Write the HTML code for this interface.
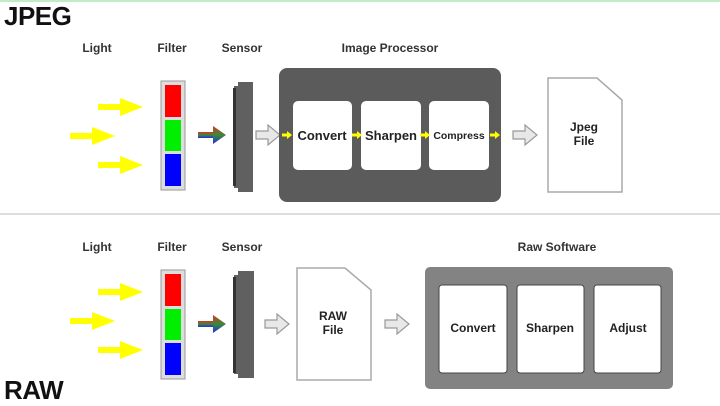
<!DOCTYPE html>
<html><head><meta charset="utf-8"><style>
html,body{margin:0;padding:0;background:#fff;}
svg{display:block;font-family:"Liberation Sans",sans-serif;font-weight:bold;}
</style></head><body>
<svg width="720" height="406" viewBox="0 0 720 406" xmlns="http://www.w3.org/2000/svg">
<defs>
<linearGradient id="rgb" x1="0" y1="0" x2="0" y2="1">
<stop offset="0" stop-color="#e03020"/><stop offset="0.5" stop-color="#3a8a3a"/><stop offset="1" stop-color="#2030e0"/>
</linearGradient>
<g id="yarrow"><rect x="0" y="-3" width="24" height="6" fill="#ffff00"/><polygon points="22,-9 45,0 22,9" fill="#ffff00"/></g>
<g id="garrow"><polygon points="0,-4 12,-4 12,-10 24,0 12,10 12,4 0,4" fill="#e8e8e8" stroke="#999" stroke-width="1.2"/></g>
<g id="smy"><rect x="0" y="-1.5" width="6" height="3" fill="#ffff00"/><polygon points="5,-4 10,0 5,4" fill="#ffff00"/></g>
</defs>
<rect x="0" y="0" width="720" height="2" fill="#c2ecc8"/>
<text x="4" y="25" font-size="26" fill="#111" letter-spacing="-0.5">JPEG</text>
<g font-size="12" fill="#333" text-anchor="middle">
<text x="97" y="52">Light</text><text x="172" y="52">Filter</text><text x="242" y="52">Sensor</text><text x="390" y="52">Image Processor</text>
<text x="97" y="251">Light</text><text x="172" y="251">Filter</text><text x="242" y="251">Sensor</text><text x="557" y="251">Raw Software</text>
</g>
<use href="#yarrow" x="98" y="107"/><use href="#yarrow" x="70" y="136"/><use href="#yarrow" x="98" y="165"/>
<rect x="161" y="81" width="24" height="109" fill="#ddd" stroke="#999"/>
<rect x="165" y="85" width="16" height="32" fill="#f00"/><rect x="165" y="120" width="16" height="31" fill="#0e0"/><rect x="165" y="154" width="16" height="32" fill="#00f"/>
<rect x="198" y="132" width="18" height="6" fill="url(#rgb)"/><polygon points="213,126 226,135 213,144" fill="url(#rgb)"/>
<polygon points="238,82 253,82 253,192 238,192 238,188 234,188 234,86 238,86" fill="#606060"/>
<rect x="233" y="88" width="3" height="98" fill="#333"/>
<use href="#garrow" x="256" y="135"/>
<rect x="279" y="68" width="222" height="134" rx="8" fill="#5b5b5b"/>
<rect x="293" y="101" width="59" height="69" rx="5" fill="#fff"/>
<rect x="361" y="101" width="60" height="69" rx="5" fill="#fff"/>
<rect x="429" y="101" width="60" height="69" rx="5" fill="#fff"/>
<use href="#smy" x="282" y="135"/><use href="#smy" x="352" y="135"/><use href="#smy" x="420" y="135"/><use href="#smy" x="490" y="135"/>
<g font-size="13" fill="#222" text-anchor="middle">
<text x="322" y="140">Convert</text><text x="391" y="140">Sharpen</text><text x="459" y="139" font-size="10.5">Compress</text>
</g>
<use href="#garrow" x="513" y="135"/>
<polygon points="548,78 597,78 622,100 622,192 548,192" fill="#fff" stroke="#aaa" stroke-width="1.5"/>
<text x="584" y="131" font-size="12" fill="#222" text-anchor="middle">Jpeg</text>
<text x="584" y="145" font-size="12" fill="#222" text-anchor="middle">File</text>
<rect x="0" y="213" width="720" height="2" fill="#ddd"/>
<use href="#yarrow" x="98" y="292"/><use href="#yarrow" x="70" y="321"/><use href="#yarrow" x="98" y="350"/>
<rect x="161" y="270" width="24" height="109" fill="#ddd" stroke="#999"/>
<rect x="165" y="274" width="16" height="32" fill="#f00"/><rect x="165" y="309" width="16" height="31" fill="#0e0"/><rect x="165" y="343" width="16" height="32" fill="#00f"/>
<rect x="198" y="321" width="18" height="6" fill="url(#rgb)"/><polygon points="213,315 226,324 213,333" fill="url(#rgb)"/>
<polygon points="238,271 254,271 254,378 238,378 238,374 234,374 234,275 238,275" fill="#606060"/>
<rect x="233" y="277" width="3" height="96" fill="#333"/>
<use href="#garrow" x="265" y="324"/>
<polygon points="297,268 345,268 371,290 371,380 297,380" fill="#fff" stroke="#aaa" stroke-width="1.5"/>
<text x="333" y="320" font-size="12" fill="#222" text-anchor="middle">RAW</text>
<text x="333" y="334" font-size="12" fill="#222" text-anchor="middle">File</text>
<use href="#garrow" x="385" y="324"/>
<rect x="425" y="267" width="248" height="122" rx="5" fill="#838383"/>
<rect x="439" y="285" width="68" height="88" rx="3" fill="#fff" stroke="#444"/>
<rect x="517" y="285" width="67" height="88" rx="3" fill="#fff" stroke="#444"/>
<rect x="594" y="285" width="67" height="88" rx="3" fill="#fff" stroke="#444"/>
<g font-size="12" fill="#222" text-anchor="middle">
<text x="473" y="332">Convert</text><text x="550" y="332">Sharpen</text><text x="628" y="332">Adjust</text>
</g>
<text x="4" y="399" font-size="26" fill="#111" letter-spacing="-0.5">RAW</text>
</svg>
</body></html>
